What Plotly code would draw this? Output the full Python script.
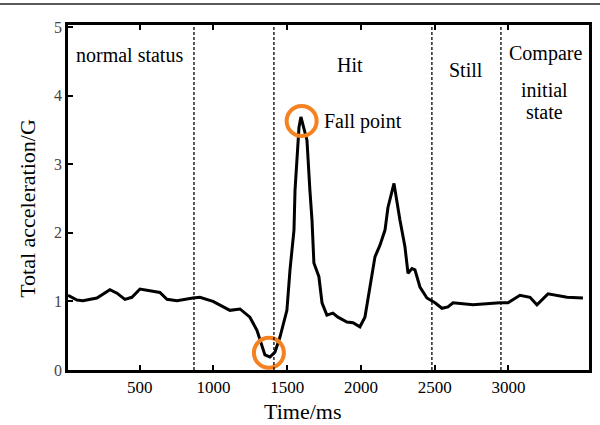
import plotly.graph_objects as go

time_ms = [14, 75, 115, 210, 298, 346, 400, 447, 502, 569, 637, 685, 753, 861, 908, 997,
           1112, 1180, 1247, 1295, 1329, 1349, 1383, 1417, 1451, 1498, 1519, 1546, 1553,
           1580, 1593, 1634, 1654, 1668, 1681, 1715, 1736, 1769, 1810, 1844, 1905, 1946,
           1993, 2027, 2061, 2095, 2129, 2163, 2183, 2224, 2264, 2298, 2319, 2346, 2366,
           2400, 2447, 2502, 2549, 2590, 2624, 2759, 2942, 2997, 3078, 3146, 3193, 3268,
           3397, 3505]
accel_g = [1.09, 1.02, 1.01, 1.05, 1.17, 1.12, 1.03, 1.06, 1.18, 1.15, 1.13, 1.03, 1.01,
           1.05, 1.06, 1.00, 0.87, 0.89, 0.77, 0.58, 0.34, 0.22, 0.19, 0.26, 0.48, 0.87,
           1.46, 2.04, 2.62, 3.54, 3.69, 3.35, 2.62, 2.19, 1.56, 1.36, 0.98, 0.80, 0.83,
           0.77, 0.70, 0.69, 0.63, 0.77, 1.21, 1.65, 1.82, 2.04, 2.37, 2.72, 2.19, 1.80,
           1.41, 1.48, 1.46, 1.21, 1.05, 0.98, 0.90, 0.92, 0.98, 0.95, 0.98, 0.98, 1.09,
           1.06, 0.95, 1.11, 1.06, 1.05]

phase_bounds = [868, 1410, 2481, 2949]
circle_x = [1376, 1598]
circle_y = [0.25, 3.63]

labels = ["normal status", "Hit", "Still", "Compare", "initial", "state", "Fall point"]
label_x = [434, 1925, 2712, 3254, 3247, 3247, 1736]
label_y = [4.59, 4.45, 4.37, 4.62, 4.08, 3.76, 3.63]

x_title = "Time/ms"
y_title = "Total acceleration/G"
x_ticks = [500, 1000, 1500, 2000, 2500, 3000]
y_ticks = [0, 1, 2, 3, 4, 5]

FONT = "Liberation Serif"

fig = go.Figure()
fig.add_trace(go.Scatter(x=time_ms, y=accel_g, mode="lines",
                         line=dict(color="black", width=3), hoverinfo="skip"))
fig.add_trace(go.Scatter(x=circle_x, y=circle_y, mode="markers",
                         marker=dict(symbol="circle-open", size=30,
                                     line=dict(color="rgb(245,130,32)", width=4),
                                     color="rgb(245,130,32)"),
                         hoverinfo="skip"))

for b in phase_bounds:
    fig.add_shape(type="line", xref="x", yref="paper", x0=b, x1=b, y0=0, y1=1,
                  line=dict(color="black", width=1.3, dash="3px,2px"))

# thin page rule across the top
fig.add_shape(type="line", xref="paper", yref="paper", x0=-0.14, x1=1.03, y0=1.061, y1=1.061,
              line=dict(color="#222", width=1.5))

for t, xx, yy in zip(labels, label_x, label_y):
    fig.add_annotation(x=xx, y=yy, text=t, showarrow=False,
                       xanchor="left" if t == "Fall point" else "center",
                       font=dict(family=FONT, size=20, color="black"))

# axis titles
fig.add_annotation(xref="paper", yref="paper", x=0.451, y=-0.121, text=x_title,
                   showarrow=False, xanchor="center", yanchor="middle",
                   font=dict(family=FONT, size=22, color="black"))
fig.add_annotation(xref="paper", yref="paper", x=-0.0768, y=0.47, text=y_title,
                   showarrow=False, xanchor="center", yanchor="middle", textangle=-90,
                   font=dict(family=FONT, size=22, color="black"))

fig.update_layout(
    width=600, height=425,
    margin=dict(l=68, r=11, t=25, b=55),
    paper_bgcolor="white", plot_bgcolor="white",
    showlegend=False,
    font=dict(family=FONT, color="black"),
)
fig.update_xaxes(range=[14, 3546], tickvals=x_ticks, ticks="inside", ticklen=5,
                 tickwidth=1.5, tickcolor="black", showline=True, linewidth=2.5,
                 linecolor="black", mirror="ticks", showgrid=False, zeroline=False,
                 automargin=False,
                 tickfont=dict(family=FONT, size=17, color="black"))
fig.update_yaxes(range=[0, 5.03], tickvals=y_ticks, ticks="inside", ticklen=5,
                 tickwidth=1.5, tickcolor="black", showline=True, linewidth=2.5,
                 linecolor="black", mirror=True, showgrid=False, zeroline=False,
                 automargin=False,
                 tickfont=dict(family=FONT, size=16, color="#444"))

fig.write_html("out.html", config={"displayModeBar": False},
               post_script="document.body.style.margin='0';")
